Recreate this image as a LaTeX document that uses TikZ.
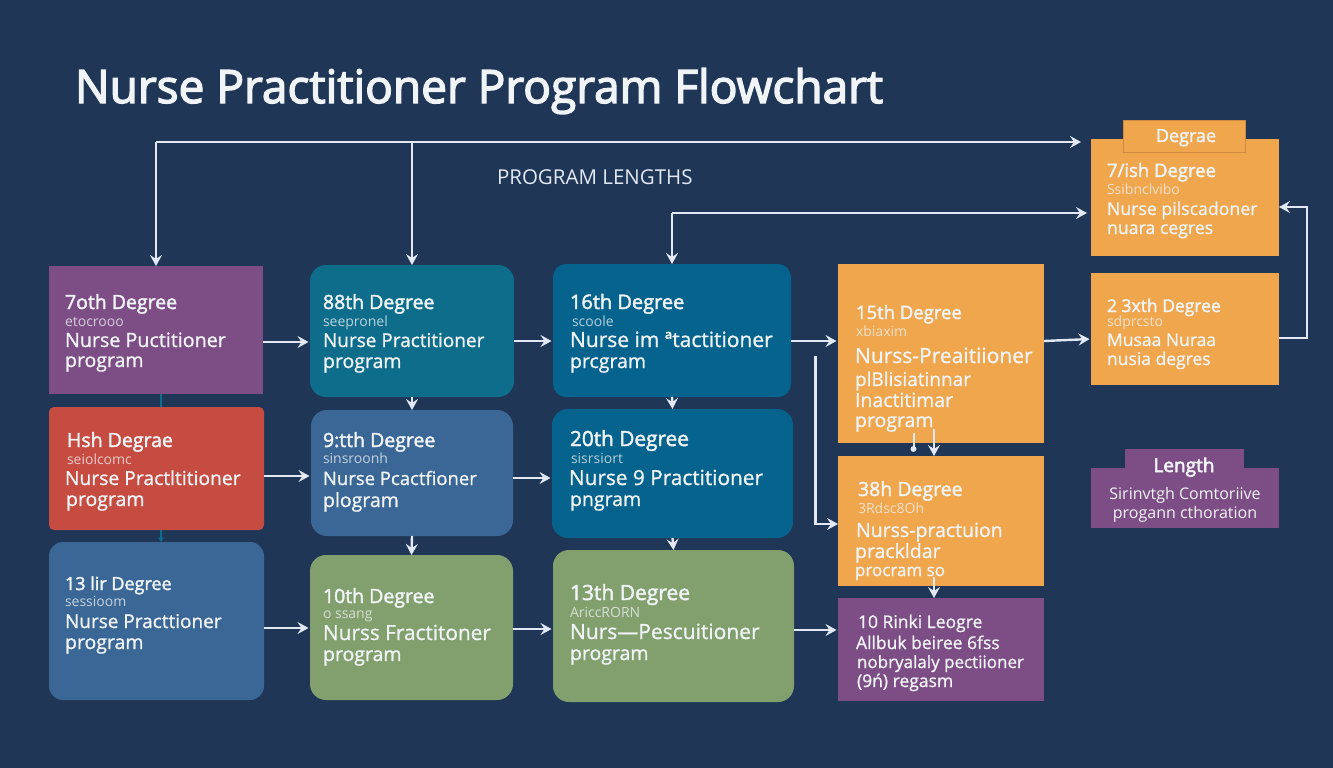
\documentclass[tikz,border=0pt]{standalone}
\usepackage{fontspec}
\setmainfont{Open Sans}
\newfontfamily\heavy[FakeBold=3]{Open Sans}
\newfontfamily\semi[FakeBold=2]{Open Sans}
\newfontfamily\lightsemi[FakeBold=1]{Open Sans}
\usetikzlibrary{arrows.meta,calc}
\definecolor{bgc}{HTML}{1F3657}
\definecolor{arrc}{HTML}{E2E8F4}
\definecolor{purp}{HTML}{7D4E85}
\definecolor{redc}{HTML}{C64C41}
\definecolor{blue}{HTML}{3B6796}
\definecolor{teal}{HTML}{0F6D8C}
\definecolor{deep}{HTML}{05638D}
\definecolor{gren}{HTML}{82A06E}
\definecolor{oran}{HTML}{F0A64C}
\definecolor{ordk}{HTML}{CF8A3F}
\definecolor{txtw}{HTML}{F1F4F6}
\tikzset{
  x=1pt,y=-1pt,
  card/.style={inner sep=0pt,outer sep=0pt},
  sq/.style={card,rounded corners=0pt},
  rd/.style={card,rounded corners=16pt},
  arr/.style={draw=arrc,line width=2.4pt,-{Stealth[length=11pt,width=12pt,inset=4pt]}},
  harr/.style={arr,shorten >=1.5pt},
  txt/.style={inner sep=0pt,outer sep=0pt,anchor=base west,text=txtw},
  ctxt/.style={inner sep=0pt,outer sep=0pt,anchor=base,text=txtw},
  hd/.style={font=\semi\fontsize{#1}{22}\selectfont},
  hd/.default=19.5,
  sb/.style={font=\fontsize{14}{16}\selectfont,text opacity=.75},
  ln/.style={font=\lightsemi\fontsize{#1}{22}\selectfont},
  ln/.default=19.5,
}
\newcommand{\bx}[6]{\node[#6,minimum width={(#4-#2)*1pt},minimum height={(#5-#3)*1pt}] (#1) at ({(#2+#4)/2},{(#3+#5)/2}) {};}
\newcommand{\tl}[5]{\node[txt,#4] (#1) at (#2,#3) {#5};}
\newcommand{\cl}[5]{\node[ctxt,#4] (#1) at (#2,#3) {#5};}
\begin{document}
\begin{tikzpicture}
\useasboundingbox (0,0) rectangle (1333,768);
\fill[bgc] (0,0) rectangle (1333,768);
% cards
\bx{A}{49}{266}{263}{394}{sq,fill=purp}
\bx{B}{49}{407}{264}{530}{card,rounded corners=5pt,fill=redc}
\bx{C}{49}{542}{264}{700}{card,rounded corners=14pt,fill=blue}
\bx{D}{310}{265}{514}{397}{rd,fill=teal}
\bx{E}{311}{410}{513}{536}{rd,fill=blue}
\bx{F}{310}{555}{513}{700}{rd,fill=gren}
\bx{G}{553}{264}{791}{397}{card,rounded corners=13pt,fill=deep}
\bx{H}{552}{409}{793}{538}{rd,fill=deep}
\bx{I}{553}{550}{794}{702}{rd,fill=gren}
\bx{J}{838}{264}{1044}{443}{sq,fill=oran}
\bx{K}{838}{456}{1044}{586}{sq,fill=oran}
\bx{L}{838}{598}{1044}{701}{sq,fill=purp}
\bx{M}{1091}{139}{1279}{256}{sq,fill=oran}
\bx{MT}{1123}{120}{1245}{152}{sq,fill=oran,draw=ordk,line width=.8pt}
\bx{N}{1091}{273}{1279}{385}{sq,fill=oran}
\bx{P}{1091}{468}{1279}{528}{sq,fill=purp}
\bx{PT}{1125}{449}{1244}{483}{sq,fill=purp}
% title
\node[txt,font=\heavy\fontsize{46}{50}\selectfont] (title) at (75,103) {Nurse Practitioner Program Flowchart};
\node[txt,text=arrc,font=\fontsize{20.5}{22}\selectfont] (plen) at (497,184) {PROGRAM LENGTHS};
% connectors
\coordinate (c1) at (A.north |- 0,142);
\coordinate (e1) at (1081,142);
\coordinate (c2) at (G.north |- 0,213);
\coordinate (e2) at (1087,213);
\coordinate (c3) at (1307,338);
\coordinate (c4) at (1307,207);
\coordinate (s5) at (815.5,356);
\coordinate (c5) at (815.5,524);
\coordinate (s6) at (913.5,433);
\coordinate (s7) at (934,429);
\coordinate (s8) at (934,577);
\draw[arr] (c1) -- (e1);
\draw[arr] (c1) -- (A.north);
\draw[arr] (D.north |- c1) -- (D.north);
\draw[arr] (c2) -- (G.north);
\draw[arr] (c2) -- (e2);
\draw[harr] (A.east |- 0,342) -- (D.west |- 0,342);
\draw[harr] (D.east |- 0,341) -- (G.west |- 0,341);
\draw[harr] (G.east |- 0,341) -- (J.west |- 0,341);
\draw[harr] (J.east |- 0,341) -- (N.west |- 0,339);
\draw[harr] (B.east |- 0,476) -- (E.west |- 0,476);
\draw[harr] (E.east |- 0,478) -- (H.west |- 0,478);
\draw[harr] (C.east |- 0,628) -- (F.west |- 0,628);
\draw[harr] (F.east |- 0,629) -- (I.west |- 0,629);
\draw[harr] (I.east |- 0,630) -- (L.west |- 0,630);
\draw[arr] (D.south) -- (E.north);
\draw[arr] (E.south) -- (F.north);
\draw[arr] (G.south) -- (H.north);
\draw[arr] (H.south) -- (I.north);
\draw[arr] (s7) -- (K.north -| s7);
\draw[arr] (s8) -- (L.north -| s8);
\draw[draw=arrc,line width=2pt] (s6) -- +(0,16);
\fill[arrc] ($(s6)+(0,16)$) circle (3pt);
\draw[arr] (N.east |- c3) -- (c3) -- (c4) -- (M.east |- c4);
\draw[arr] (s5) -- (c5) -- (K.west |- c5);
\draw[teal,line width=2pt] (161,394) -- (161,407);
\draw[teal,line width=2pt,-{Stealth[length=5pt,width=6pt]}] (161,530) -- (161,542);
% text A
\tl{a1}{65}{309}{hd}{7oth Degree}
\tl{a2}{65}{326}{sb}{etocrooo}
\tl{a3}{65}{347}{ln=19.7}{Nurse Puctitioner}
\tl{a4}{65}{367}{ln}{program}
% text B
\tl{b1}{67}{447}{hd}{Hsh  Degrae}
\tl{b2}{67}{464}{sb}{seiolcomc}
\tl{b3}{65}{485}{ln=19.3}{Nurse  Practltitioner}
\tl{b4}{66}{506}{ln}{program}
% text C
\tl{c11}{65}{590}{hd=18}{13 lir Degree}
\tl{c12}{65}{606}{sb}{sessioom}
\tl{c13}{65}{628}{ln=19}{Nurse Practtioner}
\tl{c14}{65}{649}{ln}{program}
% text D
\tl{d1}{323}{309}{hd}{88th Degree}
\tl{d2}{323}{326}{sb}{seepronel}
\tl{d3}{323}{347}{ln=19}{Nurse Practitioner}
\tl{d4}{323}{368}{ln}{program}
% text E
\tl{f1}{323}{447}{hd}{9:tth Degree}
\tl{f2}{323}{463}{sb}{sinsroonh}
\tl{f3}{323}{485}{ln=18.5}{Nurse Pcactfioner}
\tl{f4}{323}{507}{ln}{plogram}
% text F
\tl{g1}{323}{603}{hd}{10th Degree}
\tl{g2}{323}{618}{sb}{o ssang}
\tl{g3}{323}{640}{ln=20.8}{Nurss Fractitoner}
\tl{g4}{323}{661}{ln}{program}
% text G
\tl{h1}{570}{309}{hd=20}{16th Degree}
\tl{h2}{572}{326}{sb}{scoole}
\tl{h3}{570}{347}{ln=21}{Nurse im ªtactitioner}
\tl{h4}{570}{368}{ln}{prcgram}
% text H
\tl{i1}{570}{446}{hd=20.8}{20th Degree}
\tl{i2}{571}{463}{sb}{sisrsiort}
\tl{i3}{569}{485}{ln=20.8}{Nurse 9 Practitioner}
\tl{i4}{570}{506}{ln}{pngram}
% text I
\tl{j1}{570}{600}{hd=21}{13th Degree}
\tl{j2}{570}{617}{sb}{AriccRORN}
\tl{j3}{570}{639}{ln=21}{Nurs—Pescuitioner}
\tl{j4}{570}{660}{ln}{program}
% text J
\tl{k1}{856}{319}{hd=18.5}{15th Degree}
\tl{k2}{856}{336}{sb}{xbiaxim}
\tl{k3}{855}{363}{ln=21}{Nurss-Preaitiioner}
\tl{k4}{855}{386}{ln=19}{plBlisiatinnar}
\tl{k5}{855}{407}{ln}{Inactitimar}
\tl{k6}{855}{427}{ln}{program}
% text K
\tl{m1}{858}{496}{hd}{38h Degree}
\tl{m2}{858}{513}{sb}{3Rdsc8Oh}
\tl{m3}{856}{537}{ln}{Nurss-practuion}
\tl{m4}{855}{558}{ln}{prackldar}
\tl{m5}{855}{576}{ln=17}{procram  so}
% text L
\tl{n1}{858}{628}{ln=17.5}{10 Rinki Leogre}
\tl{n2}{856}{649}{ln=17.5}{Allbuk beiree 6fss}
\tl{n3}{857}{668}{ln=17}{nobryalaly pectiioner}
\tl{n4}{857}{687}{ln=17.5}{(9ń) regasm}
% text M
\cl{o0}{1186}{142}{font=\semi\fontsize{18}{20}\selectfont}{Degrae}
\tl{o1}{1107}{177}{hd=18.5}{7/ish Degree}
\tl{o2}{1107}{194}{sb}{Ssibnclvibo}
\tl{o3}{1107}{215}{ln=17.7}{Nurse pilscadoner}
\tl{o4}{1107}{234}{ln=17.7}{nuara cegres}
% text N
\tl{q1}{1107}{312}{hd=17.5}{2 3xth Degree}
\tl{q2}{1107}{326}{sb}{sdprcsto}
\tl{q3}{1107}{346}{ln=17.5}{Musaa Nuraa}
\tl{q4}{1107}{365}{ln=17.5}{nusia degres}
% text P
\cl{r0}{1184}{472}{font=\heavy\fontsize{19}{20}\selectfont}{Length}
\cl{r1}{1185}{499}{font=\fontsize{16}{18}\selectfont}{Sirinvtgh Comtoriive}
\cl{r2}{1185}{518}{font=\fontsize{16}{18}\selectfont}{progann cthoration}
\end{tikzpicture}
\end{document}
